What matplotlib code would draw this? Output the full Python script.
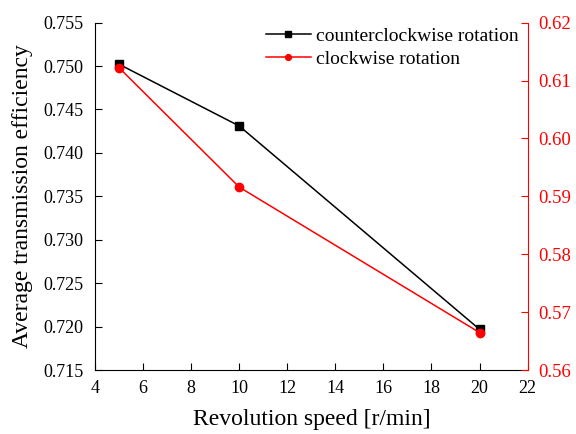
import matplotlib
matplotlib.use('Agg')
from matplotlib import pyplot as plt

plt.rcParams['font.family'] = ['Liberation Serif', 'DejaVu Serif']

speed = [5, 10, 20]
ccw_eff = [0.7502, 0.7431, 0.7197]
cw_eff = [0.6122, 0.5916, 0.5665]

fig = plt.figure(figsize=(5.76, 4.34), dpi=100)
ax = fig.add_axes([0.165, 0.147, 0.751, 0.801])
ax2 = ax.twinx()

l1, = ax.plot(speed, ccw_eff, color='k', marker='s', markersize=6, lw=1.1,
              label='counterclockwise rotation')
l2, = ax2.plot(speed, cw_eff, color='r', marker='o', markersize=6, lw=1.1,
               label='clockwise rotation')

ax.set_xlim(4, 22)
ax.set_xticks(range(4, 23, 2))
ax.set_ylim(0.715, 0.755)
ax.set_yticks([0.715 + 0.005 * i for i in range(9)])
ax.set_yticklabels(['%.3f' % (0.715 + 0.005 * i) for i in range(9)])
ax2.set_ylim(0.56, 0.62)
ax2.set_yticks([0.56 + 0.01 * i for i in range(7)])
ax2.set_yticklabels(['%.2f' % (0.56 + 0.01 * i) for i in range(7)])

ax.tick_params(direction='in', labelsize=13, length=5)
ax.tick_params(axis='y', right=False, pad=8.5)
ax.tick_params(axis='x', top=False, pad=7)
ax2.tick_params(direction='in', labelsize=13.5, length=5, colors='r', pad=7.5)
ax2.spines['right'].set_color('r')
ax2.spines['top'].set_visible(False)
ax.spines['top'].set_visible(False)
ax2.spines['left'].set_visible(False)
ax.spines['right'].set_visible(False)
ax2.spines['bottom'].set_visible(False)

ax.set_xlabel('Revolution speed [r/min]', fontsize=17, labelpad=9)
ax.set_ylabel('Average transmission efficiency', fontsize=17, labelpad=7)

ax.legend(handles=[l1, l2], loc='upper right', frameon=False, fontsize=14,
          handlelength=2.3, handletextpad=0.3, labelspacing=0.25, markerscale=0.7,
          borderaxespad=0.0, bbox_to_anchor=(0.998, 1.008))

fig.savefig('out.png', dpi=100)
